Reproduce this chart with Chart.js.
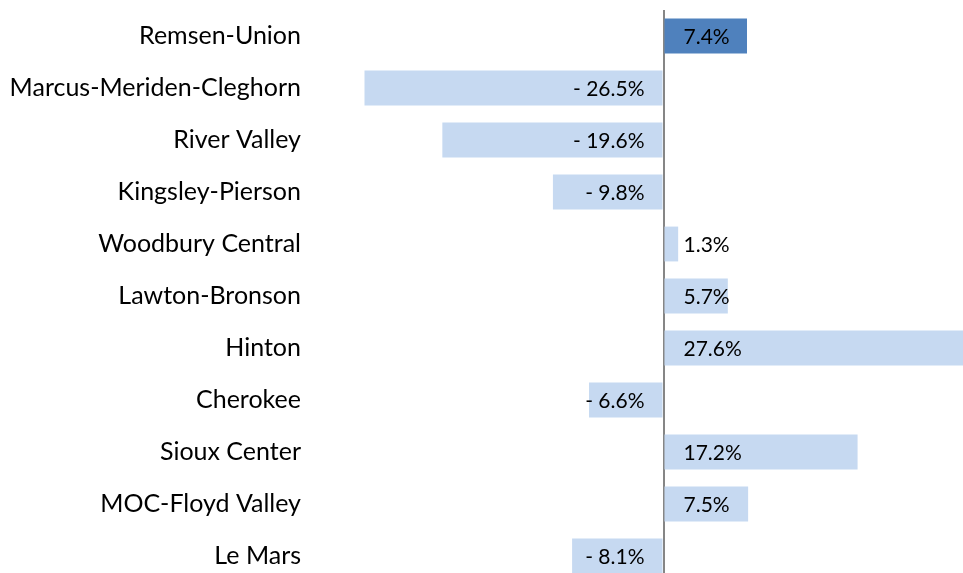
<!DOCTYPE html>
<html>
<head>
<meta charset="utf-8">
<script src="https://cdn.jsdelivr.net/npm/chart.js@4.4.1/dist/chart.umd.min.js"></script>
<style>
html,body{margin:0;padding:0;overflow:hidden;background:#fff;width:963px;height:573px;}
canvas{display:block;}
</style>
</head>
<body>
<canvas id="c" width="1002" height="582"></canvas>
<script>
const categories = ["Remsen-Union","Marcus-Meriden-Cleghorn","River Valley","Kingsley-Pierson","Woodbury Central","Lawton-Bronson","Hinton","Cherokee","Sioux Center","MOC-Floyd Valley","Le Mars"];
const changePct = [7.4,-26.5,-19.6,-9.8,1.3,5.7,27.6,-6.6,17.2,7.5,-8.1];
const highlightIndex = 0;

const FONT = "Lato, 'Open Sans', sans-serif";
const barColors = changePct.map((v,i)=> i===highlightIndex ? '#4f81bd' : '#c6d9f1');

const labelPlugin = {
  id:'insideBaseLabels',
  afterDatasetsDraw(chart){
    const ctx = chart.ctx;
    const xs = chart.scales.x;
    const zero = xs.getPixelForValue(0);
    const meta = chart.getDatasetMeta(0);
    ctx.save();
    ctx.font = "21px " + FONT;
    ctx.fillStyle = '#000';
    ctx.textBaseline = 'middle';
    meta.data.forEach((bar,i)=>{
      const v = changePct[i];
      const txt = v < 0 ? '- ' + Math.abs(v).toFixed(1) + '%' : v.toFixed(1) + '%';
      if (v >= 0){ ctx.textAlign='left'; ctx.fillText(txt, zero+20, bar.y+1); }
      else { ctx.textAlign='right'; ctx.fillText(txt, zero-19, bar.y+1); }
    });
    ctx.restore();
  }
};

new Chart(document.getElementById('c'),{
  type:'bar',
  data:{labels:categories,datasets:[{data:changePct,backgroundColor:barColors,borderWidth:0,categoryPercentage:1,barPercentage:0.67}]},
  options:{
    indexAxis:'y',
    responsive:false,
    animation:false,
    layout:{padding:{top:10,right:0,left:0,bottom:0}},
    plugins:{legend:{display:false},tooltip:{enabled:false}},
    scales:{
      x:{min:-30,max:30,
         ticks:{display:false},
         border:{display:false},
         grid:{drawTicks:false,lineWidth:2,color:(c)=> (c.tick && c.tick.value===0) ? '#868686' : 'rgba(0,0,0,0)'},
         afterFit(s){ s.height = 0; s.paddingLeft = 0; s.paddingRight = 0; }},
      y:{
         grid:{display:false,drawTicks:false},
         border:{display:false},
         ticks:{color:'#000',font:{family:FONT,size:25},padding:24},
         afterFit(s){ s.width = 325; s.paddingTop = 0; s.paddingBottom = 0; }
      }
    }
  },
  plugins:[labelPlugin]
});
</script>
</body>
</html>
